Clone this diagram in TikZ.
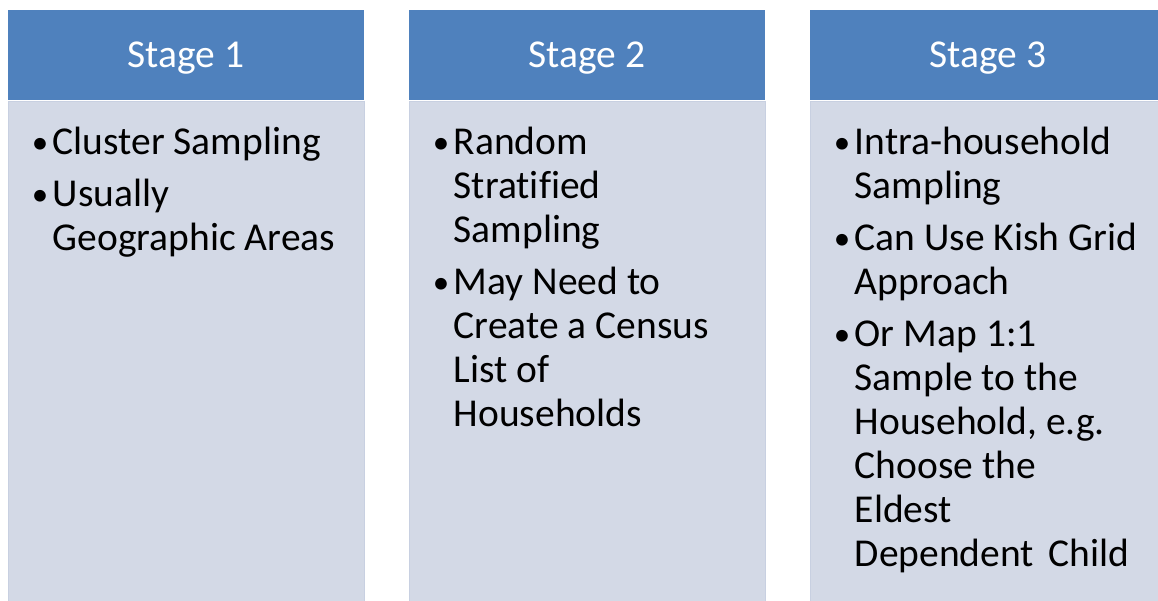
\documentclass[tikz,border=0pt]{standalone}
\usepackage{fontspec}
\setmainfont{Carlito}[Ligatures=CommonOff]
\usetikzlibrary{positioning}
\definecolor{headblue}{HTML}{4F81BD}
\definecolor{bodygray}{HTML}{D3D9E6}
\definecolor{bodyedge}{HTML}{C8D0E1}
\newcommand{\stagedot}{\makebox[23pt][l]{\hspace{2pt}\raisebox{1pt}{\fontsize{33}{44}\selectfont\textbullet}}}

\begin{document}
\begin{tikzpicture} [x = 1pt, y = -1pt]
        %style
        \tikzset{stagehead/.style = {shape=rectangle, fill=headblue, text=white, inner sep=0pt, text height=35pt, text depth=9pt, minimum width=356pt, minimum height=90pt, font=\fontsize{39.5}{44}\selectfont}}
        \tikzset{stagebody/.style = {shape=rectangle, fill=bodygray, draw=bodyedge, line width=0.8pt, inner sep=0pt, minimum width=356pt, minimum height=500pt}}
        \tikzset{stagelist/.style = {anchor=north west, inner sep=0pt, font=\fontsize{39.5}{44}\selectfont}}
        \useasboundingbox (0,0) rectangle (1158,601);
        \node[stagehead] (head1) at (186,55) {Stage 1};
        \node[stagehead] (head2) at (587,55) {Stage 2};
        \node[stagehead] (head3) at (988,55) {Stage 3};
        \node[stagebody, below=1pt of head1] (body1) {};
        \node[stagebody, below=1pt of head2] (body2) {};
        \node[stagebody, below=1pt of head3] (body3) {};
        \node[stagelist, below right=22pt and 22pt of body1.north west] (list1) {%
            \begin{tabular}{@{}l@{}l@{}}
            \stagedot & Cluster Sampling\\[8pt]
            \stagedot & Usually\\
                      & Geographic Areas
            \end{tabular}};
        \node[stagelist, below right=22pt and 22pt of body2.north west] (list2) {%
            \begin{tabular}{@{}l@{}l@{}}
            \stagedot & Random\\
                      & Stratified\\
                      & Sampling\\[8pt]
            \stagedot & May Need to\\
                      & Create a Census\\
                      & List of\\
                      & Households
            \end{tabular}};
        \node[stagelist, below right=22pt and 22pt of body3.north west] (list3) {%
            \begin{tabular}{@{}l@{}l@{}}
            \stagedot & Intra-household\\
                      & Sampling\\[8pt]
            \stagedot & Can Use Kish Grid\\
                      & Approach\\[8pt]
            \stagedot & Or Map 1:1\\
                      & Sample to the\\
                      & Household, e.g.\\
                      & Choose the\\
                      & Eldest\\
                      & Dependent\hspace{6pt} Child
            \end{tabular}};
\end{tikzpicture}
\end{document}
